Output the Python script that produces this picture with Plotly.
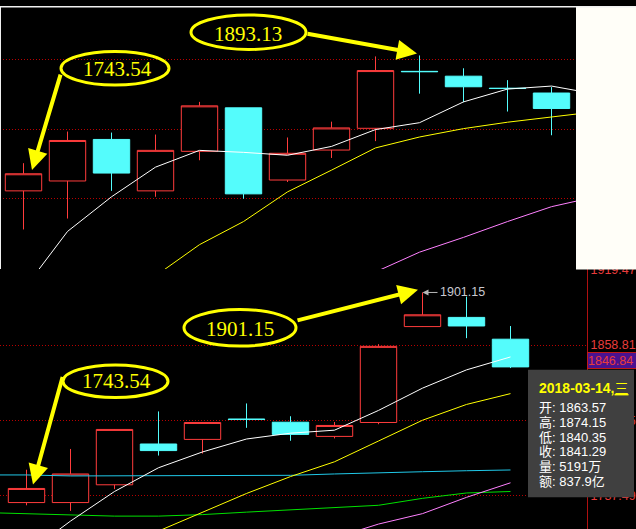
import plotly.graph_objects as go

W, H = 636, 529

# ---------------- top panel data ----------------
top_idx = list(range(13))
top_open = [1721.9, 1734.4, 1786.9, 1721.9, 1771.9, 1826.9, 1735.6, 1773.5, 1801.0, 1873.0, 1866.9, 1851.7, 1845.6]
top_high = [1756.9, 1796.9, 1795.6, 1793.1, 1834.4, 1826.9, 1789.4, 1809.4, 1891.9, 1893.13, 1876.9, 1861.9, 1853.1]
top_low = [1673.1, 1686.9, 1721.9, 1714.4, 1760.6, 1711.9, 1733.1, 1763.5, 1784.8, 1844.8, 1834.0, 1822.2, 1792.2]
top_close = [1743.54, 1785.6, 1744.4, 1773.1, 1829.4, 1718.1, 1769.4, 1801.5, 1874.0, 1872.6, 1853.5, 1851.3, 1826.0]

top_ma_white_x = list(range(0, 14))
top_ma_white = [1596.9, 1670.6, 1714.4, 1751.9, 1773.1, 1770.6, 1766.9, 1778.1, 1799.4, 1808.1, 1834.4, 1850.6, 1854.4, 1844.4]
top_ma_yellow_x = list(range(3, 14))
top_ma_yellow = [1614.4, 1653.9, 1683.1, 1720.6, 1748.1, 1776.2, 1790.0, 1800.6, 1808.7, 1815.0, 1821.9]
top_ma_pink_x = list(range(8, 14))
top_ma_pink = [1619.4, 1644.4, 1663.1, 1683.1, 1701.9, 1714.4]
top_grid = [1888.1, 1800.0, 1711.9, 1623.8]

# ---------------- bottom panel data ----------------
bot_idx = list(range(12))
bot_open = [1732.2, 1732.2, 1746.5, 1779.3, 1783.0, 1799.4, 1796.8, 1785.4, 1796.6, 1873.7, 1881.1, 1863.57]
bot_high = [1758.6, 1775.3, 1791.3, 1805.5, 1796.8, 1811.9, 1801.6, 1797.0, 1859.6, 1901.15, 1897.8, 1874.15]
bot_low = [1730.0, 1725.5, 1743.0, 1770.0, 1771.6, 1792.3, 1781.9, 1783.8, 1795.2, 1873.5, 1864.4, 1840.35]
bot_close = [1743.54, 1755.2, 1791.0, 1774.0, 1796.6, 1799.0, 1787.0, 1794.2, 1857.8, 1883.2, 1874.2, 1841.29]

bot_ma_white_x = list(range(0, 12))
bot_ma_white = [1691.1, 1717.3, 1741.1, 1760.2, 1772.9, 1783.3, 1788.0, 1790.4, 1806.3, 1824.2, 1838.9, 1849.3]
bot_ma_yellow_x = list(range(3, 12))
bot_ma_yellow = [1709.3, 1724.4, 1739.5, 1753.1, 1765.0, 1781.7, 1798.4, 1811.1, 1819.8]
bot_ma_pink_x = list(range(7, 12))
bot_ma_pink = [1703.8, 1714.9, 1723.3, 1736.4, 1748.1]
bot_ma_cyan_x = list(range(-1, 12))
bot_ma_cyan = [1754.4, 1754.4, 1753.6, 1753.6, 1753.6, 1753.6, 1753.9, 1754.1, 1755.2, 1755.8, 1757.0, 1757.8, 1758.4]
bot_ma_green_x = list(range(-1, 12))
bot_ma_green = [1724.2, 1723.4, 1722.1, 1721.3, 1721.3, 1722.5, 1724.5, 1726.4, 1728.0, 1730.0, 1735.6, 1739.9, 1741.1]
bot_grid = [1919.47, 1858.81, 1798.15, 1737.49]
bot_grid_text = ["1919.47", "1858.81", "1798.15", "1737.49"]
last_price = 1846.84
max_price = 1901.15

# annotation texts
note_top_high = "1893.13"
note_top_first = "1743.54"
note_bot_high = "1901.15"
note_bot_first = "1743.54"

# tooltip
tip_date = "2018-03-14,"
tip_weekday = "三"
tip_labels = ["开", "高", "低", "收", "量", "额"]
tip_values = ["1863.57", "1874.15", "1840.35", "1841.29", "5191万", "837.9亿"]

RED = "#ff3c3c"
CYAN = "#54fcfc"
GRID = "#b80000"
YEL = "#ffff00"


def px(x):
    return x / W


def py(y):
    return 1 - y / H


fig = go.Figure()


def candles(x, o, h, l, c, xa, ya):
    fig.add_trace(go.Candlestick(
        x=x, open=o, high=h, low=l, close=c, xaxis=xa, yaxis=ya,
        increasing=dict(line=dict(color=RED, width=1), fillcolor="#000000"),
        decreasing=dict(line=dict(color=CYAN, width=1), fillcolor=CYAN),
        whiskerwidth=0, hoverinfo="skip", showlegend=False))


def ma(x, y, color, xa, ya):
    fig.add_trace(go.Scatter(x=x, y=y, mode="lines", line=dict(color=color, width=1),
                             xaxis=xa, yaxis=ya, hoverinfo="skip", showlegend=False))


candles(top_idx, top_open, top_high, top_low, top_close, "x", "y")
ma(top_ma_white_x, top_ma_white, "#ffffff", "x", "y")
ma(top_ma_yellow_x, top_ma_yellow, "#ffff00", "x", "y")
ma(top_ma_pink_x, top_ma_pink, "#ff80ff", "x", "y")

candles(bot_idx, bot_open, bot_high, bot_low, bot_close, "x2", "y2")
ma(bot_ma_cyan_x, bot_ma_cyan, "#20c8e8", "x2", "y2")
ma(bot_ma_green_x, bot_ma_green, "#00e000", "x2", "y2")
ma(bot_ma_white_x, bot_ma_white, "#ffffff", "x2", "y2")
ma(bot_ma_yellow_x, bot_ma_yellow, "#ffff00", "x2", "y2")
ma(bot_ma_pink_x, bot_ma_pink, "#ff80ff", "x2", "y2")

step = 44.0
split = 266.0

fig.update_layout(
    width=W, height=H,
    margin=dict(l=0, r=0, t=0, b=0),
    paper_bgcolor="#000000", plot_bgcolor="#000000",
    hovermode=False, showlegend=False,
    boxgap=0.173, boxgroupgap=0,
    xaxis=dict(domain=[0, px(576)], range=[-23.5 / step, (576 - 23.5) / step],
               visible=False, rangeslider=dict(visible=False), anchor="y"),
    yaxis=dict(domain=[py(split), 1], range=[1623.13, 1955.63], anchor="x",
               tickvals=top_grid, showticklabels=False, ticks="",
               showgrid=True, gridcolor=GRID, gridwidth=1, griddash="1px,2px",
               zeroline=False, showline=False),
    xaxis2=dict(domain=[0, px(587)], range=[-26.5 / step, (587 - 26.5) / step],
                visible=False, rangeslider=dict(visible=False), anchor="y2"),
    yaxis2=dict(domain=[0, py(split)], range=[1710.94, 1920.03], anchor="x2", side="right",
                tickvals=bot_grid, ticktext=bot_grid_text, ticks="",
                tickfont=dict(family="Liberation Sans, Arial, sans-serif", size=12.5, color="#e83c3c"),
                showgrid=True, gridcolor=GRID, gridwidth=1, griddash="1px,2px",
                zeroline=False, showline=True, linecolor="#b01010", linewidth=1),
)

shapes = []
# white area top-right and thin border
shapes.append(dict(type="rect", xref="paper", yref="paper", x0=px(576), x1=1, y0=py(266.5), y1=1,
                   fillcolor="#fffef8", line=dict(width=0), layer="above"))
shapes.append(dict(type="rect", xref="paper", yref="paper", x0=0, x1=1, y0=py(1.5), y1=1,
                   fillcolor="#f0f0f0", line=dict(width=0), layer="above"))
shapes.append(dict(type="rect", xref="paper", yref="paper", x0=0, x1=px(1), y0=py(266), y1=1,
                   fillcolor="#f0f0f0", line=dict(width=0), layer="above"))
# tooltip box
shapes.append(dict(type="rect", xref="paper", yref="paper", x0=px(528), x1=px(634), y0=py(497), y1=py(368),
                   fillcolor="#404040", line=dict(width=0), layer="above"))
# ellipses
for (x0, y0, x1, y1) in [(191, 9, 306, 44), (61, 46, 169, 80), (184, 307, 296, 344), (63, 363, 168, 396)]:
    shapes.append(dict(type="circle", xref="paper", yref="paper", x0=px(x0), x1=px(x1), y0=py(y1), y1=py(y0),
                       line=dict(color=YEL, width=3), fillcolor="rgba(0,0,0,0)", layer="above"))
fig.update_layout(shapes=shapes)

ann = []
serif = dict(family="Liberation Serif, DejaVu Serif, serif", size=21, color=YEL)
for (t, cx, cy) in [(note_top_high, 248, 28), (note_top_first, 118, 64), (note_bot_high, 240, 327), (note_bot_first, 117, 379)]:
    ann.append(dict(text=t, x=px(cx), y=py(cy), xref="paper", yref="paper", showarrow=False,
                    font=serif, xanchor="center", yanchor="middle"))
# arrows (tail -> tip)
for (tx, ty, hx, hy) in [(306, 28, 417, 48), (61, 69, 32, 166), (296, 318, 418, 287), (63, 375, 33, 484)]:
    ann.append(dict(text="", x=px(hx), y=py(hy), xref="paper", yref="paper", showarrow=True,
                    ax=tx - hx, ay=ty - hy, arrowhead=2, arrowsize=1.0, arrowwidth=4,
                    arrowcolor=YEL, standoff=0))
# max marker from chart software
ann.append(dict(text=f"{max_price:.2f}", x=bot_high.index(max_price), y=max_price, xref="x2", yref="y2",
                showarrow=True, ax=15, ay=0, xanchor="left", arrowhead=2, arrowsize=1.2, arrowwidth=1,
                arrowcolor="#b8b8b8", standoff=0,
                font=dict(family="Liberation Sans, Arial, sans-serif", size=12.5, color="#c8c8d0")))
# last price label
ann.append(dict(text=f"{last_price:.2f}", x=px(587), y=last_price, xref="paper", yref="y2", showarrow=False,
                xanchor="left", yanchor="middle", align="left", width=48, height=15,
                bgcolor="#4a1290", bordercolor="#c01818", borderwidth=1, borderpad=0,
                font=dict(family="Liberation Sans, Arial, sans-serif", size=12.5, color="#e83c3c")))
# tooltip text
ann.append(dict(text="<b>" + tip_date + "</b><span style='text-decoration:underline'>" + tip_weekday + "</span>",
                x=px(537), y=py(386), xref="paper", yref="paper", showarrow=False,
                xanchor="left", yanchor="middle",
                font=dict(family="Liberation Sans, Noto Sans CJK SC, sans-serif", size=14, color=YEL)))
for k, (lab, val) in enumerate(zip(tip_labels, tip_values)):
    ann.append(dict(text=lab + ": " + val, x=px(537), y=py(406 + 15 * k), xref="paper", yref="paper",
                    showarrow=False, xanchor="left", yanchor="middle",
                    font=dict(family="Liberation Sans, Noto Sans CJK SC, sans-serif", size=13, color="#ffffff")))
fig.update_layout(annotations=ann)

fig.write_html("out.html", config={"displayModeBar": False},
               post_script="document.body.style.margin='0';document.body.style.overflow='hidden';")
